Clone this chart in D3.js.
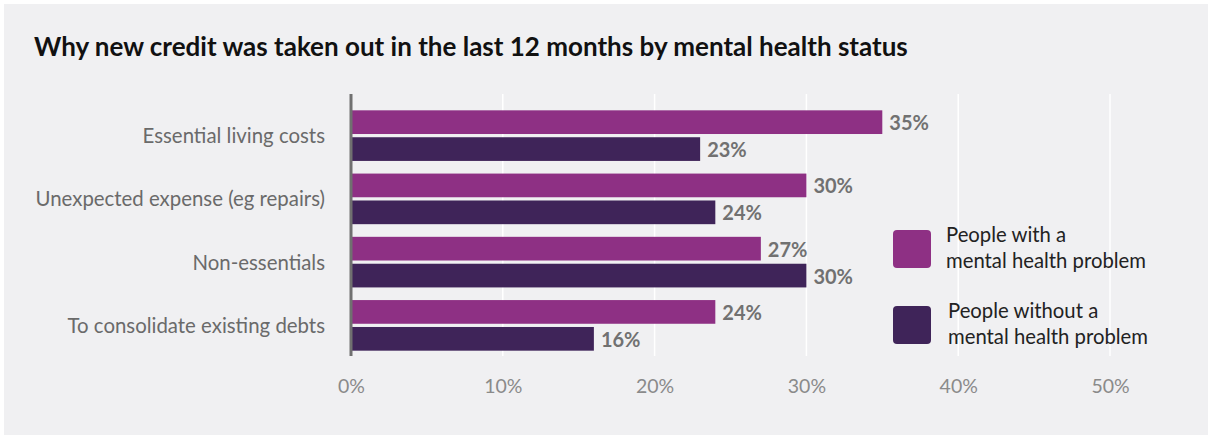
<!DOCTYPE html>
<html>
<head>
<meta charset="utf-8">
<script src="https://cdn.jsdelivr.net/npm/d3@7"></script>
<style>
  html, body { margin: 0; padding: 0; background: #ffffff; }
  svg { display: block; font-family: "Lato", "Noto Sans", sans-serif; }
</style>
</head>
<body>
<svg id="chart" width="1212" height="439"></svg>
<script>
const categories = [
  "Essential living costs",
  "Unexpected expense (eg repairs)",
  "Non-essentials",
  "To consolidate existing debts"
];
const seriesNames = [
  ["People with a", "mental health problem"],
  ["People without a", "mental health problem"]
];
const withProblem = [35, 30, 27, 24];
const withoutProblem = [23, 24, 30, 16];
const tickValues = [0, 10, 20, 30, 40, 50];
const colors = ["#8e3084", "#3f2459"];

const svg = d3.select("#chart");

svg.append("rect")
  .attr("x", 4).attr("y", 4)
  .attr("width", 1204).attr("height", 431)
  .attr("fill", "#f0f0f2");

svg.append("text")
  .attr("x", 34).attr("y", 56)
  .attr("font-size", 26).attr("font-weight", 700)
  .attr("fill", "#111111")
  .text("Why new credit was taken out in the last 12 months by mental health status");

const x = d3.scaleLinear().domain([0, 50]).range([351, 1110]);
const y = d3.scaleBand().domain(categories).range([104, 357]).paddingInner(0.2).paddingOuter(0.1);
const sub = d3.scaleBand().domain([0, 1]).range([0, y.bandwidth()]).paddingInner(0.12);

// gridlines
svg.append("g").selectAll("line").data(tickValues.slice(1)).join("line")
  .attr("x1", d => x(d)).attr("x2", d => x(d))
  .attr("y1", 94).attr("y2", 356)
  .attr("stroke", "#ffffff").attr("stroke-width", 1.5);

// tick labels
const xAxis = d3.axisBottom(x).tickValues(tickValues).tickFormat(d => d + "%").tickSize(0).tickPadding(0);
const gx = svg.append("g").attr("transform", "translate(0,379)").call(xAxis);
gx.select(".domain").remove();
gx.selectAll("text")
  .attr("font-family", "Lato, 'Noto Sans', sans-serif")
  .attr("font-size", 19.5).attr("fill", "#8a8a8a");

// bars
const series = [withProblem, withoutProblem];
series.forEach((vals, si) => {
  const g = svg.append("g");
  g.selectAll("rect").data(vals).join("rect")
    .attr("x", x(0))
    .attr("y", (d, i) => y(categories[i]) + sub(si))
    .attr("width", d => x(d) - x(0))
    .attr("height", sub.bandwidth())
    .attr("fill", colors[si]);
  g.selectAll("text").data(vals).join("text")
    .attr("x", d => x(d) + 7)
    .attr("y", (d, i) => y(categories[i]) + sub(si) + sub.bandwidth() / 2 + 1)
    .attr("dy", "0.35em")
    .attr("font-size", 20).attr("font-weight", 700)
    .attr("fill", "#717171")
    .text(d => d + "%");
});

// category labels
const yAxis = d3.axisLeft(y).tickSize(0).tickPadding(0);
const gy = svg.append("g").attr("transform", "translate(325,1)").call(yAxis);
gy.select(".domain").remove();
gy.selectAll("text")
  .attr("font-family", "Lato, 'Noto Sans', sans-serif")
  .attr("font-size", 20.4).attr("fill", "#6a6a6a")
  .attr("dy", "0.32em");

// baseline
svg.append("line")
  .attr("x1", x(0)).attr("x2", x(0))
  .attr("y1", 94).attr("y2", 356)
  .attr("stroke", "#707070").attr("stroke-width", 3);

// legend
const legend = svg.append("g");
seriesNames.forEach((lines, i) => {
  const ly = 230 + i * 76;
  legend.append("rect")
    .attr("x", 893).attr("y", ly)
    .attr("width", 38).attr("height", 38)
    .attr("rx", 4)
    .attr("fill", colors[i]);
  legend.append("text")
    .attr("x", 946 + i * 2).attr("y", ly + 12)
    .attr("font-size", 20.3).attr("fill", "#222222")
    .selectAll("tspan").data(lines).join("tspan")
    .attr("x", 946 + i * 2)
    .attr("dy", (d, j) => j === 0 ? 0 : 26)
    .text(d => d);
});
</script>
</body>
</html>
